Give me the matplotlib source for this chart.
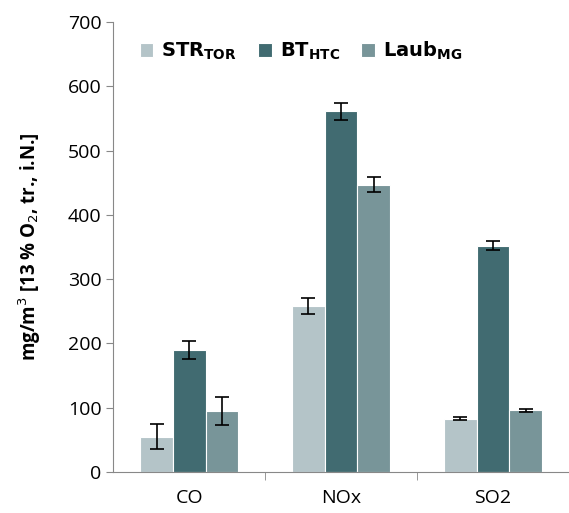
import matplotlib
matplotlib.use("Agg")
import matplotlib.pyplot as plt
import numpy as np

plt.rcParams['font.family'] = ['Open Sans', 'DejaVu Sans']

categories = ['CO', 'NOx', 'SO2']
series_names = [r'$\mathbf{STR_{TOR}}$', r'$\mathbf{BT_{HTC}}$', r'$\mathbf{Laub_{MG}}$']
colors = ['#b4c4c8', '#416b71', '#789599']
values = [
    [55, 258, 83],    # STR_TOR
    [189, 561, 352],  # BT_HTC
    [95, 447, 96],    # Laub_MG
]
errors = [
    [20, 12, 2],
    [14, 13, 7],
    [22, 12, 2],
]

fig = plt.figure(figsize=(5.69, 5.13), dpi=100)
ax = fig.add_axes([0.199, 0.080, 0.801, 0.877])

x = np.arange(len(categories))
w = 0.215
for i in range(3):
    ax.bar(x + (i - 1) * w, values[i], w, color=colors[i], edgecolor='white',
           linewidth=0.8, label=series_names[i],
           yerr=errors[i], capsize=5, error_kw=dict(ecolor='black', elinewidth=1.2, capthick=1.2))

ax.set_xlim(-0.5, 2.5)
ax.set_ylim(0, 700)
ax.set_yticks(range(0, 701, 100))
ax.set_xticks(x)
ax.set_xticklabels(categories, fontsize=14)
ax.tick_params(axis='x', length=0, pad=12)
ax.set_xticks([0.5, 1.5], minor=True)
ax.tick_params(axis='x', which='minor', length=6, color='#888888')
ax.tick_params(axis='y', labelsize=14, color='#888888', length=5)
ax.spines['top'].set_visible(False)
ax.spines['right'].set_visible(False)
ax.spines['left'].set_color('#888888')
ax.spines['bottom'].set_color('#888888')
ax.set_ylabel(r'mg/m$^3$ [13 % O$_2$, tr., i.N.]', fontsize=13.5, fontweight='bold')
ax.yaxis.set_label_coords(-0.155, 0.5)

ax.legend(loc='upper left', bbox_to_anchor=(0.02, 1.0), ncol=3, frameon=False,
          fontsize=14, handlelength=0.7, handleheight=0.7, columnspacing=1.1,
          handletextpad=0.4)

fig.savefig('out.png', dpi=100)
